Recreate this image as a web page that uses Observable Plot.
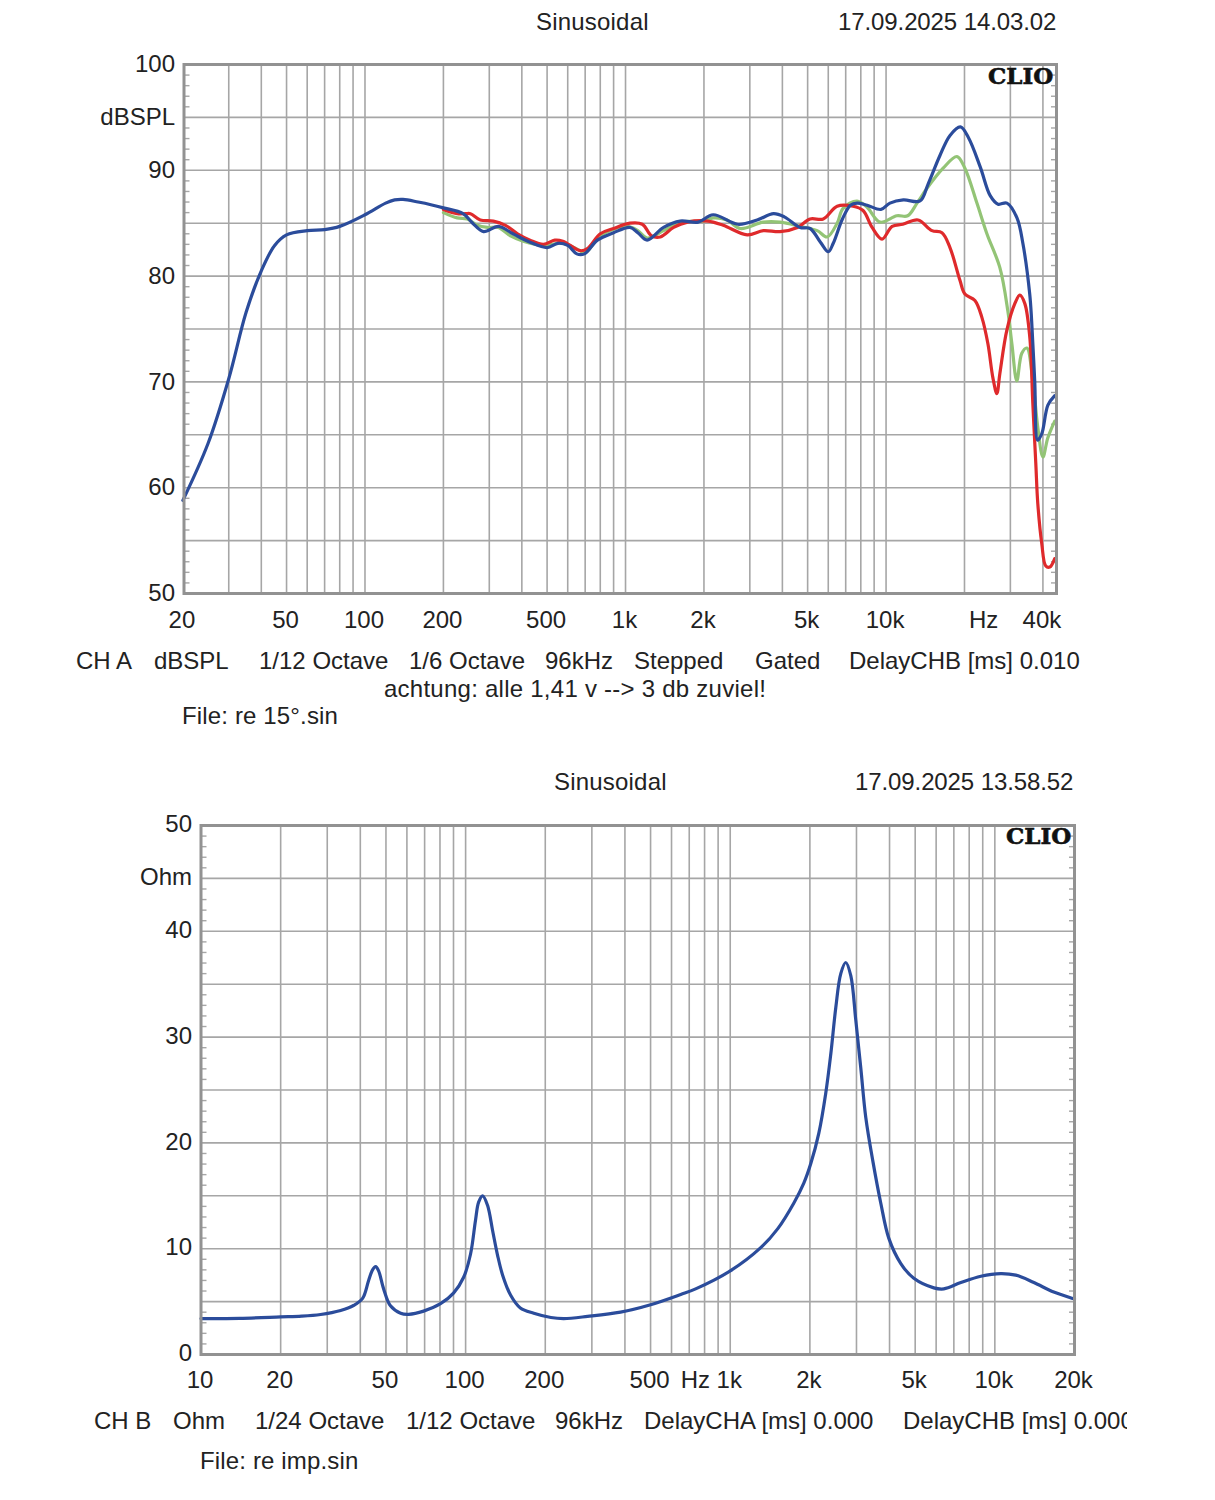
<!DOCTYPE html>
<html><head><meta charset="utf-8">
<script src="https://cdn.jsdelivr.net/npm/d3@7"></script>
<script src="https://cdn.jsdelivr.net/npm/@observablehq/plot@0.6"></script>
<style>
html,body{margin:0;padding:0;background:#fff}
#page{position:relative;width:1215px;height:1500px;overflow:hidden;font-family:"Liberation Sans",Arial,sans-serif;color:#222}
#page>svg{position:absolute;left:0}
.t{position:absolute;font-size:24px;line-height:30px;white-space:pre;transform:translateY(-50%)}
.clio{font-family:"DejaVu Serif",serif;font-weight:700;font-size:23px;color:#111;-webkit-text-stroke:.6px #111}
</style></head><body><div id="page"></div>
<script>
// ---------- Chart A: frequency response (Hz, dBSPL)
const blueA = [[20,58.8],[25,64.2],[30,70.3],[35,76.6],[40,80.5],[45,82.9],[50,83.9],[60,84.3],[70,84.4],[80,84.7],[100,85.8],[120,86.9],[130,87.2],[140,87.25],[160,87],[179,86.75],[200,86.45],[238,85.9],[259,85],[285,84.2],[325,84.7],[370,84],[430,83.2],[500,82.7],[550,83.1],[600,82.9],[650,82.1],[695,82.1],[780,83.4],[900,84.1],[1040,84.6],[1115,84.1],[1210,83.4],[1400,84.6],[1620,85.2],[1900,85.1],[2170,85.8],[2700,84.9],[3200,85.3],[3700,85.9],[4070,85.6],[4680,84.6],[5110,84.5],[5600,83.2],[6000,82.3],[6270,83.1],[6800,85.4],[7300,86.7],[7750,86.9],[8460,86.7],[9560,86.3],[10350,86.9],[11650,87.2],[13500,87.1],[14500,88.7],[16100,91.4],[17600,93.3],[19300,94.1],[20700,93.1],[23000,90.3],[25100,87.6],[26900,86.8],[29100,86.9],[31800,85.5],[33500,83.1],[35600,78.3],[36200,75.8],[37200,70.1],[38200,64.5],[39600,65.1],[41800,67.8],[44400,68.7]];
const greenA = [[200,86],[226,85.5],[247,85.4],[270,84.8],[295,84.6],[325,84.6],[362,83.8],[405,83.3],[484,82.9],[575,83.1],[658,82.5],[700,82.2],[800,83.8],[1010,84.7],[1115,84.3],[1210,83.6],[1400,84.3],[1620,85.1],[2000,85.2],[2170,85.5],[2450,85.3],[2760,84.5],[3380,85.1],[3920,85.1],[4680,84.7],[5440,84.3],[5940,83.7],[6490,85],[6840,86.4],[7740,87.1],[8460,86.5],[9480,85.1],[11000,85.7],[12100,85.7],[13150,86.9],[14360,88.3],[16560,90.2],[18710,91.3],[20070,90.2],[22320,86.9],[24380,84],[27340,80.8],[29340,76.7],[30400,73.6],[31760,70.1],[33190,72.7],[34700,73.2],[36580,70.1],[38230,65.7],[40000,62.9],[41750,64.7],[44400,66.3]];
const redA = [[200,86.3],[226,85.9],[243,85.9],[254,85.9],[277,85.3],[311,85.2],[346,84.8],[385,84],[430,83.4],[484,83],[535,83.4],[575,83.3],[670,82.4],[714,82.6],[800,84],[900,84.5],[1040,85],[1160,84.9],[1260,83.8],[1360,83.7],[1530,84.6],[1730,85.1],[2070,85.2],[2370,84.8],[2930,83.9],[3380,84.3],[3920,84.2],[4570,84.6],[5110,85.4],[5740,85.4],[6490,86.6],[7470,86.6],[8160,86.2],[8840,84.6],[9650,83.5],[10550,84.7],[11600,84.9],[13260,85.3],[15000,84.3],[16390,84.1],[17590,82.7],[19210,79.6],[20070,78.3],[21930,77.7],[23320,76.1],[24600,73.6],[25700,70.4],[26620,68.9],[27340,70.8],[29080,74.9],[31200,77.4],[32610,78.2],[34090,77.4],[35620,74.2],[36580,68],[37560,62.3],[38230,58.5],[39600,54.7],[41020,52.6],[42500,52.5],[44400,53.3]];
const gridFreqA = [30,40,50,60,70,80,90,100,200,300,400,500,600,700,800,900,1000,2000,3000,4000,5000,6000,7000,8000,9000,10000,20000,30000,40000];
const xTicksA = [20,50,100,200,500,1000,2000,5000,10000,23900,40000];
const xLabelsA = ["20","50","100","200","500","1k","2k","5k","10k","Hz","40k"];
const yTicksA = [50,60,70,80,90,95,100];
const yLabelsA = ["50","60","70","80","90","dBSPL","100"];
const yGridA = [55,60,65,70,75,80,85,90,95];
const yMinorA = d3.range(51,100).filter(v=>v%5!==0);
const captionsA = ["CH A","dBSPL","1/12 Octave","1/6 Octave","96kHz","Stepped","Gated","DelayCHB [ms] 0.010"];

// ---------- Chart B: impedance (Hz, Ohm)
const blueB = [[10,3.4],[14,3.42],[20,3.55],[24,3.62],[28.3,3.78],[33.7,4.16],[37.7,4.63],[40.8,5.3],[43,7],[44.5,8],[45.7,8.3],[46.9,7.9],[49,6.2],[52,4.6],[56.8,3.9],[60.9,3.8],[69.4,4.1],[80.4,4.8],[90,5.8],[98.3,7.3],[104.4,9.5],[109,12.7],[112,14.4],[116,15],[121,14.1],[126.5,11.7],[132,9.4],[138,7.5],[148,5.6],[161,4.4],[181,3.9],[210,3.5],[235,3.4],[289,3.6],[385,4],[500,4.7],[650,5.67],[740,6.2],[1000,7.9],[1304,10.1],[1513,11.9],[1738,14.3],[1897,16.2],[2016,18.05],[2161,20.9],[2296,24.7],[2399,28.4],[2506,32.8],[2617,36],[2733,37.05],[2855,35.8],[2982,31.6],[3114,27.1],[3253,22.4],[3458,18.3],[3707,14.3],[3973,11],[4412,8.6],[4941,7.2],[5880,6.3],[6415,6.2],[7440,6.8],[8855,7.4],[10530,7.65],[12000,7.5],[14040,6.8],[16700,5.9],[19720,5.3],[20000,5.25]];
const gridFreqB = [20,30,40,50,60,70,80,90,100,200,300,400,500,600,700,800,900,1000,2000,3000,4000,5000,6000,7000,8000,9000,10000];
const xTicksB = [10,20,50,100,200,500,745,1000,2000,5000,10000,20000];
const xLabelsB = ["10","20","50","100","200","500","Hz","1k","2k","5k","10k","20k"];
const yTicksB = [0,10,20,30,40,45,50];
const yLabelsB = ["0","10","20","30","40","Ohm","50"];
const yGridB = [5,10,15,20,25,30,35,40,45];
const yMinorB = d3.range(1,50).filter(v=>v%5!==0);
const captionsB = ["CH B","Ohm","1/24 Octave","1/12 Octave","96kHz","DelayCHA [ms] 0.000"];

const BLUE="#2b4c9b", RED="#df2a2c", GREEN="#93c476", GRID="#a6a6a6", FRAME="#929292", INK="#222";
const page=document.getElementById("page");
const X=d=>d[0], Y=d=>d[1];

function chart({top,height,mTop,mBottom,mLeft,mRight,xDomain,yDomain,grid,yGrid,yMinor,xTicks,xLabels,yTicks,yLabels,series,yDy,xDy}){
  const fx=d=>xLabels[xTicks.indexOf(d)];
  const svg=Plot.plot({
    width:1215,height,marginTop:mTop,marginBottom:mBottom,marginLeft:mLeft,marginRight:mRight,
    style:{background:"#fff",fontFamily:'"Liberation Sans",Arial,sans-serif',color:INK,overflow:"visible"},
    x:{type:"log",domain:xDomain,axis:null},
    y:{domain:yDomain,axis:null},
    marks:[
      Plot.ruleX(grid,{stroke:GRID,strokeWidth:1.6}),
      Plot.ruleY(yGrid,{stroke:GRID,strokeWidth:1.6}),
      Plot.axisY({ticks:yMinor,anchor:"left",tickSize:-6,tickFormat:()=>"",label:null,stroke:GRID,strokeWidth:1.4}),
      Plot.axisY({ticks:yMinor,anchor:"right",tickSize:-6,tickFormat:()=>"",label:null,stroke:GRID,strokeWidth:1.4}),
      ...series.map(([pts,c])=>Plot.line(pts,{x:X,y:Y,stroke:c,strokeWidth:3.2,curve:"catmull-rom"})),
      Plot.frame({stroke:FRAME,strokeWidth:3}),
      Plot.text(xTicks,{x:d=>d,text:fx,frameAnchor:"bottom",dx:-1,dy:xDy,lineAnchor:"middle",fontSize:24,fill:INK}),
      Plot.text(yTicks,{y:d=>d,text:d=>yLabels[yTicks.indexOf(d)],frameAnchor:"left",dx:-9,dy:yDy,textAnchor:"end",lineAnchor:"middle",fontSize:24,fill:INK})
    ]
  });
  svg.style.top=top+"px";
  page.appendChild(svg);
}
chart({top:0,height:750,mTop:64,mBottom:157,mLeft:183.5,mRight:159,xDomain:[20.2,45100],yDomain:[50,100],grid:gridFreqA,yGrid:yGridA,yMinor:yMinorA,xTicks:xTicksA,xLabels:xLabelsA,yTicks:yTicksA,yLabels:yLabelsA,series:[[greenA,GREEN],[redA,RED],[blueA,BLUE]],yDy:0,xDy:27});
chart({top:760,height:740,mTop:65,mBottom:146,mLeft:200.5,mRight:141,xDomain:[10,20000],yDomain:[0,50],grid:gridFreqB,yGrid:yGridB,yMinor:yMinorB,xTicks:xTicksB,xLabels:xLabelsB,yTicks:yTicksB,yLabels:yLabelsB,series:[[blueB,BLUE]],yDy:-1,xDy:26});

function put(s,x,y,cls,ls){const d=document.createElement("div");d.className="t"+(cls?" "+cls:"");d.textContent=s;d.style.left=x+"px";d.style.top=y+"px";if(ls)d.style.letterSpacing=ls+"px";page.appendChild(d);return d}
put("Sinusoidal",536,22,"",.2);
put("17.09.2025 14.03.02",838,22,"",-.1);
put("CLIO",988,76,"clio");
[76,154,259,409,545,634,755,849].forEach((x,i)=>put(captionsA[i],x,661));
put("achtung: alle 1,41 v --> 3 db zuviel!",384,689,"",.25);
put("File: re 15°.sin",182,716,"",.15);

put("Sinusoidal",554,782,"",.2);
put("17.09.2025 13.58.52",855,782,"",-.1);
put("CLIO",1006,836,"clio");
[94,173,255,406,555,644].forEach((x,i)=>put(captionsB[i],x,1421));
const clip=put("DelayCHB [ms] 0.000",903,1421);clip.style.width=(1127-903)+"px";clip.style.overflow="hidden";
put("File: re imp.sin",200,1461,"",.15);
</script></body></html>
